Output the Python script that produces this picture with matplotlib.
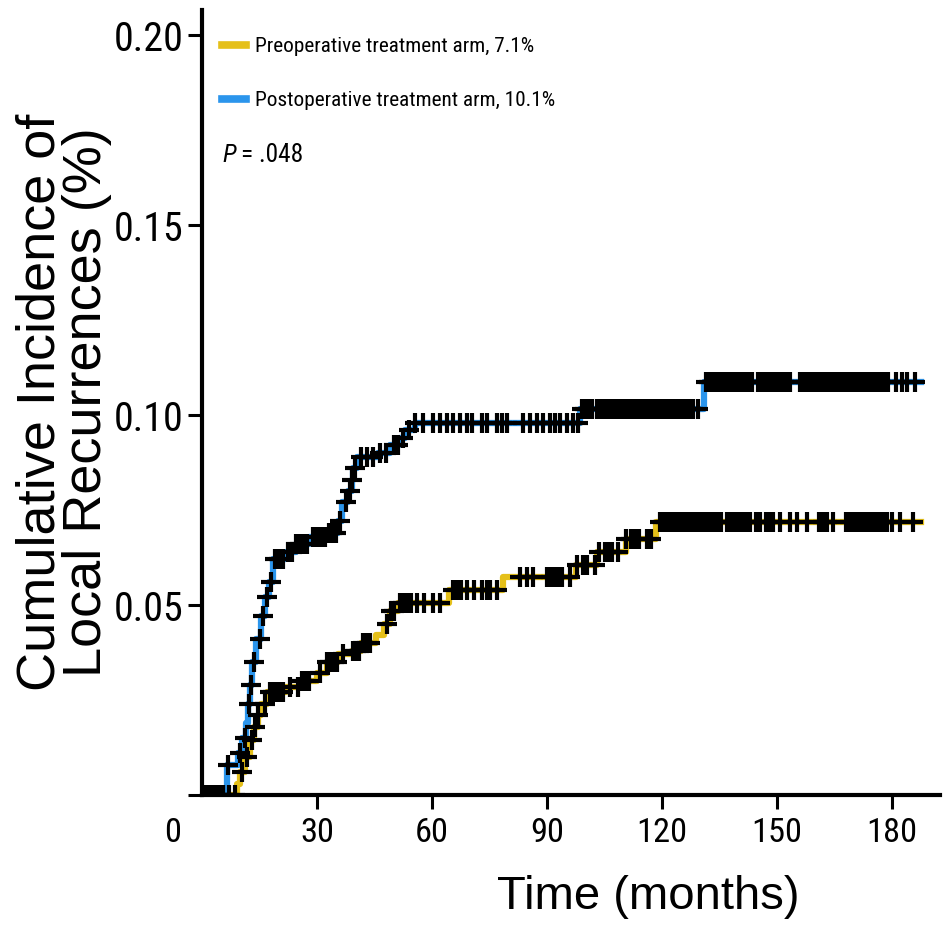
import numpy as np
import matplotlib
matplotlib.use("Agg")
import matplotlib.pyplot as plt
from matplotlib import font_manager as fm
from matplotlib.lines import Line2D
from matplotlib.transforms import ScaledTranslation

# Daten: Stufen (Zeitpunkt, kumulative Inzidenz)
post_t = [0, 6.5, 9.5, 10.5, 11.5, 12, 12.5, 13, 14, 15.5, 16.5, 17.5, 18.5,
          22, 24.5, 28, 33, 35.5, 36.5, 38, 39, 39.5, 40.5, 46, 49, 51.5,
          53, 55.5, 98.5, 131, 187.5]
post_v = [0, 0.008, 0.011, 0.015, 0.019, 0.024, 0.029, 0.035, 0.041, 0.047,
          0.052, 0.056, 0.062, 0.064, 0.066, 0.068, 0.069, 0.072, 0.077,
          0.080, 0.083, 0.086, 0.089, 0.090, 0.092, 0.094, 0.096, 0.098,
          0.1015, 0.1088, 0.1088]

pre_t = [0, 9, 10, 11.2, 12.5, 13.5, 14.5, 15.5, 17, 22, 26, 30, 32.5, 35.5,
         39, 41.5, 45.5, 47.5, 49, 51, 64.5, 78.5, 97.5, 103, 110.5, 118.5,
         187.5]
pre_v = [0, 0.003, 0.006, 0.010, 0.0145, 0.018, 0.021, 0.024, 0.027, 0.0285,
         0.030, 0.032, 0.035, 0.037, 0.038, 0.040, 0.042, 0.045, 0.0485,
         0.0505, 0.054, 0.0575, 0.0605, 0.064, 0.0675, 0.0718, 0.0718]

# Zensierungen (Monate)
post_cens = [0.5, 1.5, 2.5, 3.5, 4.5, 5.5, 6.8, 9.8, 11.3, 12.2, 12.8, 13.5,
             15, 16, 17, 18, 19, 20, 21, 22.5, 23.5, 24.5, 25.5, 26.5, 27.5,
             29, 30, 31, 32, 33, 34, 35, 36, 37.5, 38.5, 39.2, 40, 41.5, 43,
             44.5, 46.5, 48, 50, 51, 52.5, 54, 55.6, 57.7, 60.3, 62.1, 63.9,
             65.5, 67.3, 69.1, 70.4, 73, 74.3, 76.9, 78.3, 79.6, 83.7, 85.6,
             87.4, 88.9, 90.8, 92.1, 93.4, 95.2, 96.8, 98, 99, 100, 101, 101.8,
             103, 104, 105, 106, 107, 108, 109, 110, 111, 112, 113, 114, 115,
             116, 117, 118, 119, 120, 121, 122, 123, 124, 125, 126, 127, 128,
             129.5, 131.5, 132.3, 133, 133.8, 134.5, 135.3, 136, 136.8, 137.5,
             138.3, 139, 139.8, 140.5, 141.3, 142, 142.8, 143.5, 145, 145.8,
             146.5, 147.3, 148, 149, 150, 151, 151.8, 152.5, 153.3, 156, 156.8,
             157.5, 158.3, 159, 160, 161, 161.8, 162.5, 163.3, 164, 165, 165.8,
             166.5, 167.3, 168, 169, 170, 170.8, 171.5, 172.3, 173, 174, 174.8,
             175.5, 176.3, 177, 178, 179, 181, 182.5, 184, 186]
pre_cens = [0.5, 1.5, 2.5, 3.5, 4.5, 5.5, 7, 8.6, 10.4, 11.7, 13, 13.8, 14.6,
            16.4, 17.8, 18.5, 19.2, 20, 21, 23, 25, 26, 27, 28, 30.8, 32.6,
            33.5, 34.5, 35.2, 36.8, 39.4, 40.2, 41, 42, 43, 43.8, 48.3, 49.2,
            50.2, 51.6, 52.5, 53.5, 54.5, 56, 58, 60.3, 62, 65.5, 66.5, 67.5,
            69, 71, 73, 74.3, 75, 77, 83, 84.8, 86.3, 90, 91, 92, 93, 94, 96,
            97.8, 99.5, 100.5, 102.5, 103.5, 105, 106, 107, 108.5, 110.5, 112,
            113, 114, 116, 117, 119.5, 120.3, 121, 121.8, 122.5, 123.3, 124,
            124.8, 125.5, 126.3, 127, 127.8, 128.5, 129.3, 130, 130.8, 131.5,
            132.3, 133, 133.8, 134.5, 135.5, 137, 138, 139, 140, 140.8, 141.5,
            142.3, 143, 144.5, 145.5, 147, 148, 149, 150.8, 153.4, 155.2, 157.8,
            161, 162, 163, 164.6, 168, 169, 170, 171, 172, 173, 174, 175, 176,
            177, 178, 178.8, 180, 182, 185.5]

labels = ['Preoperative treatment arm, 7.1%', 'Postoperative treatment arm, 10.1%']
p_label = 'P'
p_value = '= .048'
x_ticks = [0, 30, 60, 90, 120, 150, 180]
y_ticks = [0, 0.05, 0.10, 0.15, 0.20]
y_ticklabels = ['', '0.05', '0.10', '0.15', '0.20']

yellow = '#E5C01A'
blue = '#2B95EC'


# schmale Schrift suchen (Narrow / Condensed), sonst Liberation Sans
def find_narrow(style='normal'):
    prefer = ['Liberation Sans Narrow', 'Roboto Condensed', 'Open Sans Condensed',
              'Noto Sans', 'DejaVu Sans', 'Open Sans', 'Roboto']
    found = []
    for f in fm.fontManager.ttflist:
        n = f.name.lower()
        st = str(f.stretch).lower()
        narrowish = ('narrow' in n or 'condensed' in n or st == 'condensed'
                     or st == 'semi-condensed')
        if narrowish and f.style == style and f.weight in (400, 'normal', 'regular', 'book'):
            rank = prefer.index(f.name) if f.name in prefer else len(prefer)
            found.append((rank, 0 if st == 'condensed' else 1, f.fname))
    if found:
        found.sort()
        return fm.FontProperties(fname=found[0][2])
    return fm.FontProperties(family='Liberation Sans', style=style)


fp_narrow = find_narrow()
fp_narrow_it = find_narrow('italic')
plt.rcParams['font.family'] = ['Liberation Sans', 'DejaVu Sans']


def step_value(t, v, c):
    t = np.asarray(t)
    v = np.asarray(v)
    idx = np.searchsorted(t, c, side='right') - 1
    return v[idx]


fig = plt.figure(figsize=(9.51, 9.43), dpi=100)
renderer = fig.canvas.get_renderer()


def fit_size(s, fp, width_px):
    p = fp.copy()
    p.set_size(20)
    t = fig.text(0, 0, s, fontproperties=p)
    w = t.get_window_extent(renderer).width
    t.remove()
    return 20 * width_px / w


def sized(fp, size):
    p = fp.copy()
    p.set_size(size)
    return p


leg_size = fit_size(labels[0], fp_narrow, 278)
xt_size = fit_size('180', fp_narrow, 51)
yt_size = fit_size('0.20', fp_narrow, 70)

ax = fig.add_axes([202 / 951, 1 - 795 / 943, 738 / 951, 785 / 943])

ax.step(pre_t, pre_v, where='post', color=yellow, lw=4.5, zorder=2)
ax.step(post_t, post_v, where='post', color=blue, lw=4.5, zorder=3)
ax.plot(pre_cens, step_value(pre_t, pre_v, pre_cens), ls='none', marker='+',
        ms=15, mew=3.0, color='black', zorder=4)
ax.plot(post_cens, step_value(post_t, post_v, post_cens), ls='none', marker='+',
        ms=15, mew=3.0, color='black', zorder=5)

ax.set_xlim(0, 192.5)
ax.set_ylim(0, 0.2066)
ax.spines['top'].set_visible(False)
ax.spines['right'].set_visible(False)
for s in ['left', 'bottom']:
    ax.spines[s].set_linewidth(3)

ax.set_xticks(x_ticks)
ax.set_xticklabels([str(x) for x in x_ticks])
ax.set_yticks(y_ticks)
ax.set_yticklabels(y_ticklabels)
ax.tick_params(axis='both', length=10, width=2.2)
ax.tick_params(axis='x', pad=6)
ax.tick_params(axis='y', pad=3)
for lab in ax.get_xticklabels():
    lab.set_fontproperties(sized(fp_narrow, xt_size))
for lab in ax.get_yticklabels():
    lab.set_fontproperties(sized(fp_narrow, yt_size))
ax.xaxis.get_major_ticks()[0].tick1line.set_visible(False)
lab0 = ax.get_xticklabels()[0]
lab0.set_transform(lab0.get_transform() + ScaledTranslation(-0.29, 0, fig.dpi_scale_trans))

ax.set_xlabel('Time (months)', fontsize=34)
ax.xaxis.set_label_coords(0.604, -0.13)
ax.xaxis.label.set_va('center')
ax.set_ylabel('Cumulative Incidence of\nLocal Recurrences (%)', fontsize=39,
              linespacing=0.9)
ax.yaxis.set_label_coords(-0.187, 0.5)
ax.yaxis.label.set_va('center')

leg_px = leg_size * 100 / 72
handles = [Line2D([], [], color=yellow, lw=5.5), Line2D([], [], color=blue, lw=5.5)]
ax.legend(handles, labels, loc='upper left', bbox_to_anchor=(0.027, 0.965),
          frameon=False, prop=sized(fp_narrow, leg_size),
          handlelength=24 / leg_px, handletextpad=9 / leg_px,
          labelspacing=max(60 / leg_px - 1.2, 0.1), borderpad=0, borderaxespad=0)

p_txt = ax.text(0.027, 0.815, p_label, transform=ax.transAxes, va='center',
                fontproperties=sized(fp_narrow_it, leg_size * 1.2))
ax.annotate(p_value, xy=(1, 0.5), xycoords=p_txt, xytext=(4, 0),
            textcoords='offset points', va='center', ha='left',
            fontproperties=sized(fp_narrow, leg_size * 1.2))

fig.savefig('out.png', dpi=100)
